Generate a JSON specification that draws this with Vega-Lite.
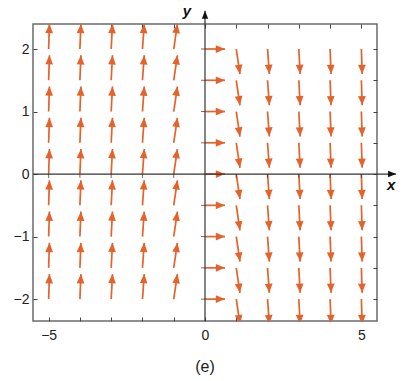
{
  "$schema": "https://vega.github.io/schema/vega-lite/v6.json",
  "width": 344,
  "height": 297,
  "autosize": {"type": "none"},
  "padding": {"left": 33, "top": 24, "right": 28, "bottom": 60},
  "title": {"text": "(e)", "orient": "bottom", "anchor": "middle", "fontSize": 16, "fontWeight": "normal", "font": "Liberation Sans", "color": "#222", "offset": 17},
  "config": {
    "view": {"stroke": "#6b6b6b", "strokeWidth": 1.5},
    "axis": {"labelFont": "Liberation Sans", "labelFontSize": 14, "labelColor": "#222", "tickColor": "#444", "tickWidth": 1, "domain": false, "grid": false}
  },
  "datasets": {
    "arrows": [
      {"x": -5, "y": -2, "x2": -4.974, "y2": -1.6, "a": 1.8},
      {"x": -5, "y": -1.5, "x2": -4.974, "y2": -1.1, "a": 1.8},
      {"x": -5, "y": -1, "x2": -4.974, "y2": -0.6, "a": 1.8},
      {"x": -5, "y": -0.5, "x2": -4.974, "y2": -0.1, "a": 1.8},
      {"x": -5, "y": 0, "x2": -4.974, "y2": 0.4, "a": 1.8},
      {"x": -5, "y": 0.5, "x2": -4.974, "y2": 0.9, "a": 1.8},
      {"x": -5, "y": 1, "x2": -4.974, "y2": 1.4, "a": 1.8},
      {"x": -5, "y": 1.5, "x2": -4.974, "y2": 1.9, "a": 1.8},
      {"x": -5, "y": 2, "x2": -4.974, "y2": 2.4, "a": 1.8},
      {"x": -4, "y": -2, "x2": -3.968, "y2": -1.6, "a": 2.3},
      {"x": -4, "y": -1.5, "x2": -3.968, "y2": -1.1, "a": 2.3},
      {"x": -4, "y": -1, "x2": -3.968, "y2": -0.6, "a": 2.3},
      {"x": -4, "y": -0.5, "x2": -3.968, "y2": -0.1, "a": 2.3},
      {"x": -4, "y": 0, "x2": -3.968, "y2": 0.4, "a": 2.3},
      {"x": -4, "y": 0.5, "x2": -3.968, "y2": 0.9, "a": 2.3},
      {"x": -4, "y": 1, "x2": -3.968, "y2": 1.4, "a": 2.3},
      {"x": -4, "y": 1.5, "x2": -3.968, "y2": 1.9, "a": 2.3},
      {"x": -4, "y": 2, "x2": -3.968, "y2": 2.4, "a": 2.3},
      {"x": -3, "y": -2, "x2": -2.958, "y2": -1.6, "a": 3.0},
      {"x": -3, "y": -1.5, "x2": -2.958, "y2": -1.1, "a": 3.0},
      {"x": -3, "y": -1, "x2": -2.958, "y2": -0.6, "a": 3.0},
      {"x": -3, "y": -0.5, "x2": -2.958, "y2": -0.1, "a": 3.0},
      {"x": -3, "y": 0, "x2": -2.958, "y2": 0.4, "a": 3.0},
      {"x": -3, "y": 0.5, "x2": -2.958, "y2": 0.9, "a": 3.0},
      {"x": -3, "y": 1, "x2": -2.958, "y2": 1.4, "a": 3.0},
      {"x": -3, "y": 1.5, "x2": -2.958, "y2": 1.9, "a": 3.0},
      {"x": -3, "y": 2, "x2": -2.958, "y2": 2.4, "a": 3.0},
      {"x": -2, "y": -2, "x2": -1.942, "y2": -1.6, "a": 4.1},
      {"x": -2, "y": -1.5, "x2": -1.942, "y2": -1.1, "a": 4.1},
      {"x": -2, "y": -1, "x2": -1.942, "y2": -0.6, "a": 4.1},
      {"x": -2, "y": -0.5, "x2": -1.942, "y2": -0.1, "a": 4.1},
      {"x": -2, "y": 0, "x2": -1.942, "y2": 0.4, "a": 4.1},
      {"x": -2, "y": 0.5, "x2": -1.942, "y2": 0.9, "a": 4.1},
      {"x": -2, "y": 1, "x2": -1.942, "y2": 1.4, "a": 4.1},
      {"x": -2, "y": 1.5, "x2": -1.942, "y2": 1.9, "a": 4.1},
      {"x": -2, "y": 2, "x2": -1.942, "y2": 2.4, "a": 4.1},
      {"x": -1, "y": -2, "x2": -0.882, "y2": -1.6, "a": 8.4},
      {"x": -1, "y": -1.5, "x2": -0.882, "y2": -1.1, "a": 8.4},
      {"x": -1, "y": -1, "x2": -0.882, "y2": -0.6, "a": 8.4},
      {"x": -1, "y": -0.5, "x2": -0.882, "y2": -0.1, "a": 8.4},
      {"x": -1, "y": 0, "x2": -0.882, "y2": 0.4, "a": 8.4},
      {"x": -1, "y": 0.5, "x2": -0.882, "y2": 0.9, "a": 8.4},
      {"x": -1, "y": 1, "x2": -0.882, "y2": 1.4, "a": 8.4},
      {"x": -1, "y": 1.5, "x2": -0.882, "y2": 1.9, "a": 8.4},
      {"x": -1, "y": 2, "x2": -0.882, "y2": 2.4, "a": 8.4},
      {"x": 0, "y": -2, "x2": 0.64, "y2": -2, "a": 90},
      {"x": 0, "y": -1.5, "x2": 0.64, "y2": -1.5, "a": 90},
      {"x": 0, "y": -1, "x2": 0.64, "y2": -1, "a": 90},
      {"x": 0, "y": -0.5, "x2": 0.64, "y2": -0.5, "a": 90},
      {"x": 0, "y": 0, "x2": 0.64, "y2": 0, "a": 90},
      {"x": 0, "y": 0.5, "x2": 0.64, "y2": 0.5, "a": 90},
      {"x": 0, "y": 1, "x2": 0.64, "y2": 1, "a": 90},
      {"x": 0, "y": 1.5, "x2": 0.64, "y2": 1.5, "a": 90},
      {"x": 0, "y": 2, "x2": 0.64, "y2": 2, "a": 90},
      {"x": 1, "y": -2, "x2": 1.118, "y2": -2.4, "a": 171.6},
      {"x": 1, "y": -1.5, "x2": 1.118, "y2": -1.9, "a": 171.6},
      {"x": 1, "y": -1, "x2": 1.118, "y2": -1.4, "a": 171.6},
      {"x": 1, "y": -0.5, "x2": 1.118, "y2": -0.9, "a": 171.6},
      {"x": 1, "y": 0, "x2": 1.118, "y2": -0.4, "a": 171.6},
      {"x": 1, "y": 0.5, "x2": 1.118, "y2": 0.1, "a": 171.6},
      {"x": 1, "y": 1, "x2": 1.118, "y2": 0.6, "a": 171.6},
      {"x": 1, "y": 1.5, "x2": 1.118, "y2": 1.1, "a": 171.6},
      {"x": 1, "y": 2, "x2": 1.118, "y2": 1.6, "a": 171.6},
      {"x": 2, "y": -2, "x2": 2.058, "y2": -2.4, "a": 175.9},
      {"x": 2, "y": -1.5, "x2": 2.058, "y2": -1.9, "a": 175.9},
      {"x": 2, "y": -1, "x2": 2.058, "y2": -1.4, "a": 175.9},
      {"x": 2, "y": -0.5, "x2": 2.058, "y2": -0.9, "a": 175.9},
      {"x": 2, "y": 0, "x2": 2.058, "y2": -0.4, "a": 175.9},
      {"x": 2, "y": 0.5, "x2": 2.058, "y2": 0.1, "a": 175.9},
      {"x": 2, "y": 1, "x2": 2.058, "y2": 0.6, "a": 175.9},
      {"x": 2, "y": 1.5, "x2": 2.058, "y2": 1.1, "a": 175.9},
      {"x": 2, "y": 2, "x2": 2.058, "y2": 1.6, "a": 175.9},
      {"x": 3, "y": -2, "x2": 3.042, "y2": -2.4, "a": 177.0},
      {"x": 3, "y": -1.5, "x2": 3.042, "y2": -1.9, "a": 177.0},
      {"x": 3, "y": -1, "x2": 3.042, "y2": -1.4, "a": 177.0},
      {"x": 3, "y": -0.5, "x2": 3.042, "y2": -0.9, "a": 177.0},
      {"x": 3, "y": 0, "x2": 3.042, "y2": -0.4, "a": 177.0},
      {"x": 3, "y": 0.5, "x2": 3.042, "y2": 0.1, "a": 177.0},
      {"x": 3, "y": 1, "x2": 3.042, "y2": 0.6, "a": 177.0},
      {"x": 3, "y": 1.5, "x2": 3.042, "y2": 1.1, "a": 177.0},
      {"x": 3, "y": 2, "x2": 3.042, "y2": 1.6, "a": 177.0},
      {"x": 4, "y": -2, "x2": 4.032, "y2": -2.4, "a": 177.7},
      {"x": 4, "y": -1.5, "x2": 4.032, "y2": -1.9, "a": 177.7},
      {"x": 4, "y": -1, "x2": 4.032, "y2": -1.4, "a": 177.7},
      {"x": 4, "y": -0.5, "x2": 4.032, "y2": -0.9, "a": 177.7},
      {"x": 4, "y": 0, "x2": 4.032, "y2": -0.4, "a": 177.7},
      {"x": 4, "y": 0.5, "x2": 4.032, "y2": 0.1, "a": 177.7},
      {"x": 4, "y": 1, "x2": 4.032, "y2": 0.6, "a": 177.7},
      {"x": 4, "y": 1.5, "x2": 4.032, "y2": 1.1, "a": 177.7},
      {"x": 4, "y": 2, "x2": 4.032, "y2": 1.6, "a": 177.7},
      {"x": 5, "y": -2, "x2": 5.026, "y2": -2.4, "a": 178.2},
      {"x": 5, "y": -1.5, "x2": 5.026, "y2": -1.9, "a": 178.2},
      {"x": 5, "y": -1, "x2": 5.026, "y2": -1.4, "a": 178.2},
      {"x": 5, "y": -0.5, "x2": 5.026, "y2": -0.9, "a": 178.2},
      {"x": 5, "y": 0, "x2": 5.026, "y2": -0.4, "a": 178.2},
      {"x": 5, "y": 0.5, "x2": 5.026, "y2": 0.1, "a": 178.2},
      {"x": 5, "y": 1, "x2": 5.026, "y2": 0.6, "a": 178.2},
      {"x": 5, "y": 1.5, "x2": 5.026, "y2": 1.1, "a": 178.2},
      {"x": 5, "y": 2, "x2": 5.026, "y2": 1.6, "a": 178.2}
    ],
    "axislines": [
      {"x": -5.5, "y": 0, "x2": 6.11, "y2": 0, "a": 90},
      {"x": 0, "y": -2.35, "x2": 0, "y2": 2.61, "a": 0}
    ],
    "xticks": [
      {"x": -5, "y": 0}, {"x": -4, "y": 0}, {"x": -3, "y": 0}, {"x": -2, "y": 0}, {"x": -1, "y": 0},
      {"x": 1, "y": 0}, {"x": 2, "y": 0}, {"x": 3, "y": 0}, {"x": 4, "y": 0}, {"x": 5, "y": 0}
    ],
    "yticks": [
      {"x": 0, "y": -2}, {"x": 0, "y": -1.5}, {"x": 0, "y": -1}, {"x": 0, "y": -0.5},
      {"x": 0, "y": 0.5}, {"x": 0, "y": 1}, {"x": 0, "y": 1.5}, {"x": 0, "y": 2}
    ],
    "axislabels": [
      {"x": 5.95, "y": -0.17, "t": "x"},
      {"x": -0.58, "y": 2.61, "t": "y"}
    ]
  },
  "resolve": {"axis": {"x": "independent", "y": "independent"}},
  "layer": [
    {
      "data": {"name": "arrows"},
      "mark": {"type": "rule", "color": "#e4632b", "strokeWidth": 1.7, "clip": true},
      "encoding": {
        "x": {"field": "x", "type": "quantitative", "scale": {"domain": [-5.5, 5.5], "nice": false, "zero": false},
          "axis": {"orient": "bottom", "title": null, "values": [-5, -4, -3, -2, -1, 0, 1, 2, 3, 4, 5], "format": "d", "labelExpr": "datum.value % 5 === 0 ? datum.label : ''", "tickSize": -4, "labelPadding": 11}},
        "y": {"field": "y", "type": "quantitative", "scale": {"domain": [-2.35, 2.4], "nice": false, "zero": false},
          "axis": {"orient": "left", "title": null, "values": [-2, -1.5, -1, -0.5, 0, 0.5, 1, 1.5, 2], "format": "d", "labelExpr": "datum.value % 1 === 0 ? datum.label : ''", "tickSize": -4, "labelPadding": 8}},
        "x2": {"field": "x2"},
        "y2": {"field": "y2"}
      }
    },
    {
      "data": {"name": "arrows"},
      "mark": {"type": "point", "shape": "M0,0L0.42,1L-0.42,1Z", "filled": true, "color": "#e4632b", "opacity": 1, "size": 340, "clip": true},
      "encoding": {
        "x": {"field": "x2", "type": "quantitative", "scale": {"domain": [-5.5, 5.5], "nice": false, "zero": false},
          "axis": {"orient": "top", "title": null, "values": [-5, -4, -3, -2, -1, 0, 1, 2, 3, 4, 5], "labels": false, "tickSize": -4}},
        "y": {"field": "y2", "type": "quantitative", "scale": {"domain": [-2.35, 2.4], "nice": false, "zero": false},
          "axis": {"orient": "right", "title": null, "values": [-2, -1.5, -1, -0.5, 0, 0.5, 1, 1.5, 2], "labels": false, "tickSize": -4}},
        "angle": {"field": "a", "type": "quantitative", "scale": null}
      }
    },
    {
      "data": {"name": "axislines"},
      "mark": {"type": "rule", "color": "#333", "strokeWidth": 1.2},
      "encoding": {
        "x": {"field": "x", "type": "quantitative", "scale": {"domain": [-5.5, 5.5], "nice": false, "zero": false}, "axis": null},
        "y": {"field": "y", "type": "quantitative", "scale": {"domain": [-2.35, 2.4], "nice": false, "zero": false}, "axis": null},
        "x2": {"field": "x2"},
        "y2": {"field": "y2"}
      }
    },
    {
      "data": {"name": "axislines"},
      "mark": {"type": "point", "shape": "M0,0L0.4,1L-0.4,1Z", "filled": true, "color": "#111", "opacity": 1, "size": 256},
      "encoding": {
        "x": {"field": "x2", "type": "quantitative", "scale": {"domain": [-5.5, 5.5], "nice": false, "zero": false}, "axis": null},
        "y": {"field": "y2", "type": "quantitative", "scale": {"domain": [-2.35, 2.4], "nice": false, "zero": false}, "axis": null},
        "angle": {"field": "a", "type": "quantitative", "scale": null}
      }
    },
    {
      "data": {"name": "xticks"},
      "mark": {"type": "tick", "orient": "vertical", "color": "#333", "thickness": 1, "size": 4, "yOffset": 2},
      "encoding": {
        "x": {"field": "x", "type": "quantitative", "scale": {"domain": [-5.5, 5.5], "nice": false, "zero": false}, "axis": null},
        "y": {"field": "y", "type": "quantitative", "scale": {"domain": [-2.35, 2.4], "nice": false, "zero": false}, "axis": null}
      }
    },
    {
      "data": {"name": "yticks"},
      "mark": {"type": "tick", "orient": "horizontal", "color": "#333", "thickness": 1, "size": 4, "xOffset": -2},
      "encoding": {
        "x": {"field": "x", "type": "quantitative", "scale": {"domain": [-5.5, 5.5], "nice": false, "zero": false}, "axis": null},
        "y": {"field": "y", "type": "quantitative", "scale": {"domain": [-2.35, 2.4], "nice": false, "zero": false}, "axis": null}
      }
    },
    {
      "data": {"name": "axislabels"},
      "mark": {"type": "text", "font": "Liberation Sans", "fontSize": 15, "fontStyle": "italic", "fontWeight": "bold", "color": "#111", "align": "center", "baseline": "middle"},
      "encoding": {
        "x": {"field": "x", "type": "quantitative", "scale": {"domain": [-5.5, 5.5], "nice": false, "zero": false}, "axis": null},
        "y": {"field": "y", "type": "quantitative", "scale": {"domain": [-2.35, 2.4], "nice": false, "zero": false}, "axis": null},
        "text": {"field": "t"}
      }
    }
  ]
}
